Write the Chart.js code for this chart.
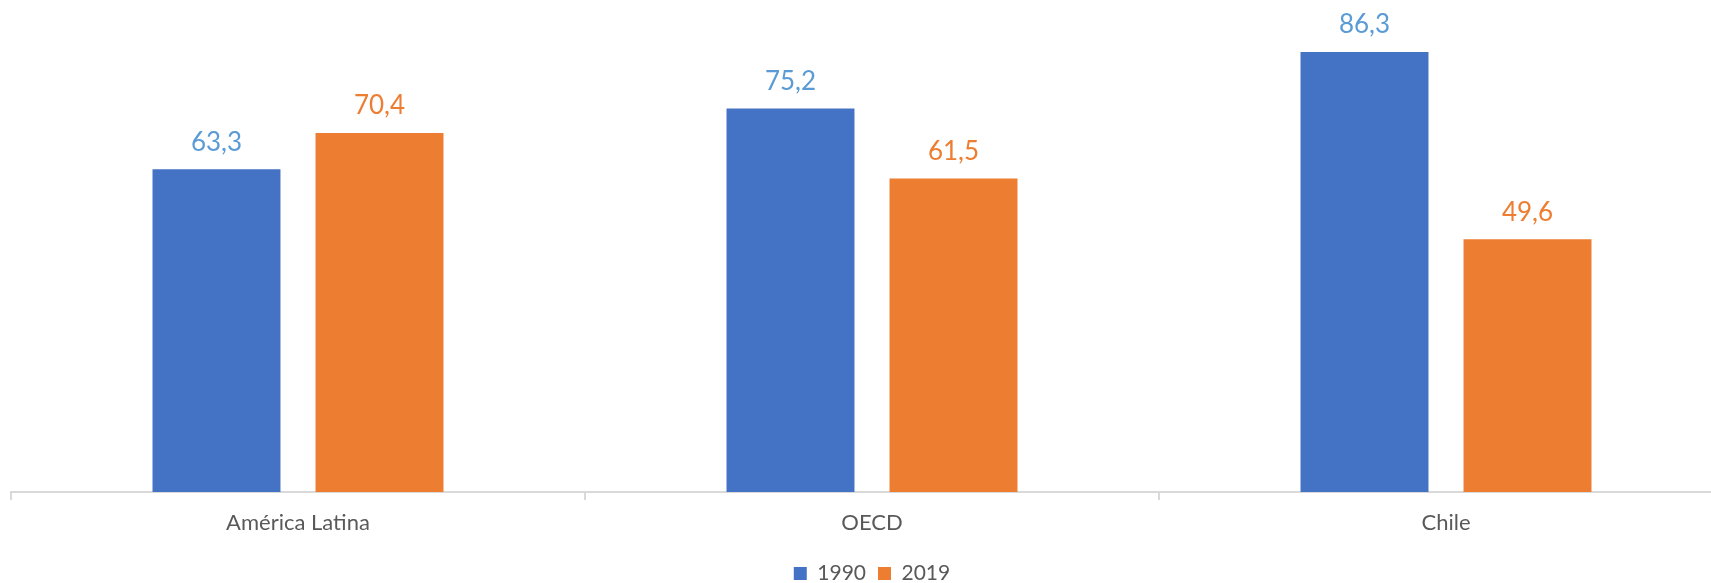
<!DOCTYPE html>
<html>
<head>
<meta charset="utf-8">
<script src="https://cdn.jsdelivr.net/npm/chart.js@4/dist/chart.umd.min.js"></script>
<style>
  html, body { margin: 0; padding: 0; background: #fff; overflow: hidden; }
  /* the original chart is a bit wider than the window and cut off on the right */
  #wrap { width: 1754px; height: 583px; position: relative; }
</style>
</head>
<body>
<div id="wrap"><canvas id="chart"></canvas></div>
<script>
const categories = ['América Latina', 'OECD', 'Chile'];
const seriesNames = ['1990', '2019'];
const values1990 = [63.3, 75.2, 86.3];
const values2019 = [70.4, 61.5, 49.6];

const barColors = ['#4472C4', '#ED7D31'];
const labelColors = ['#5B9BD5', '#ED7D31'];

// draws the value above each bar, with a decimal comma
const valueLabels = {
    id: 'valueLabels',
    afterDatasetsDraw(chart) {
        const ctx = chart.ctx;
        ctx.save();
        ctx.font = '26px Lato';
        ctx.textAlign = 'center';
        ctx.textBaseline = 'bottom';
        chart.data.datasets.forEach((ds, i) => {
            const meta = chart.getDatasetMeta(i);
            ctx.fillStyle = labelColors[i];
            meta.data.forEach((bar, j) => {
                const txt = ds.data[j].toFixed(1).replace('.', ',');
                ctx.fillText(txt, bar.x, bar.y - 14);
            });
        });
        ctx.restore();
    }
};

const ctx = document.getElementById('chart').getContext('2d');
new Chart(ctx, {
    type: 'bar',
    data: {
        labels: categories,
        datasets: [
            { label: seriesNames[0], data: values1990, backgroundColor: barColors[0] },
            { label: seriesNames[1], data: values2019, backgroundColor: barColors[1] }
        ]
    },
    options: {
        responsive: true,
        maintainAspectRatio: false,
        animation: false,
        layout: { padding: { left: 11, right: 21, top: 0, bottom: -11 } },
        datasets: {
            bar: { categoryPercentage: 0.568, barPercentage: 0.785 }
        },
        plugins: {
            legend: {
                position: 'bottom',
                labels: {
                    boxWidth: 13,
                    boxHeight: 13,
                    color: '#595959',
                    font: { family: 'Lato', size: 21 },
                    padding: 12
                }
            },
            tooltip: { enabled: false }
        },
        scales: {
            x: {
                border: { color: '#d9d9d9', width: 2 },
                grid: { drawOnChartArea: false, drawTicks: true, tickLength: 8, color: '#d9d9d9', lineWidth: 2 },
                ticks: { color: '#595959', font: { family: 'Lato', size: 22 }, padding: 10 },
                afterFit: (scale) => { scale.height += 4.5; }
            },
            y: {
                display: false,
                min: 0,
                max: 96.5
            }
        }
    },
    plugins: [valueLabels]
});
</script>
</body>
</html>
